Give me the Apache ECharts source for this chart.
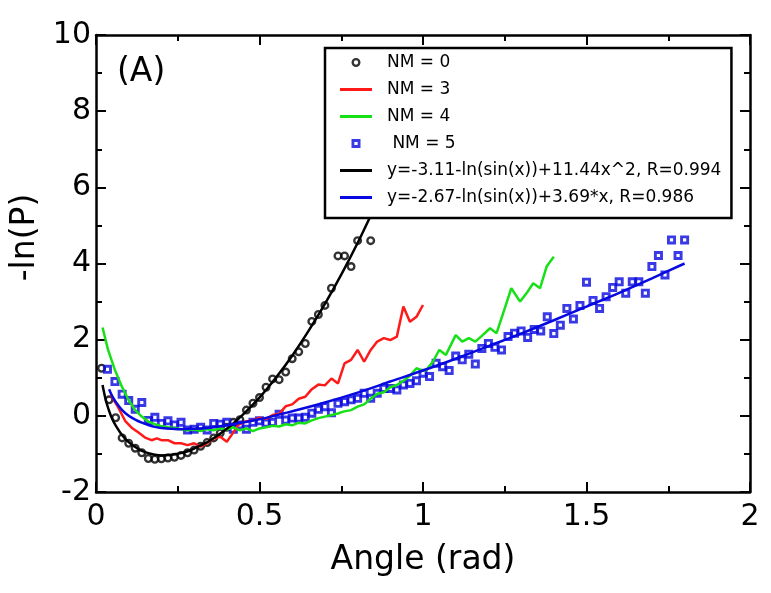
<!DOCTYPE html>
<html><head><meta charset="utf-8">
<script src="https://cdn.jsdelivr.net/npm/echarts@6/dist/echarts.min.js"></script>
<style>html,body{margin:0;padding:0;background:#fff}#c{width:771px;height:593px}</style>
</head><body><div id="c"></div>
<script>
// ---- data ----
const xTicks = [0, 0.5, 1, 1.5, 2];
const yTicks = [-2, 0, 2, 4, 6, 8, 10];
const seriesNames = ['NM = 0', 'NM = 3', 'NM = 4', ' NM = 5',
  'y=-3.11-ln(sin(x))+11.44x^2, R=0.994', 'y=-2.67-ln(sin(x))+3.69*x, R=0.986'];

const nm0 = [[0.017,1.25],[0.04,0.42],[0.06,-0.05],[0.08,-0.58],[0.10,-0.72],[0.12,-0.85],[0.14,-0.97],[0.16,-1.12],[0.18,-1.14],[0.20,-1.13],[0.22,-1.11],[0.24,-1.09],[0.26,-1.04],[0.28,-0.97],[0.30,-0.90],[0.32,-0.80],[0.34,-0.70],[0.36,-0.58],[0.38,-0.45],[0.40,-0.30],[0.42,-0.17],[0.44,-0.10],[0.46,0.15],[0.48,0.33],[0.50,0.48],[0.52,0.75],[0.54,0.97],[0.56,0.95],[0.58,1.15],[0.60,1.50],[0.62,1.68],[0.64,1.90],[0.66,2.48],[0.68,2.66],[0.70,2.90],[0.72,3.35],[0.74,4.20],[0.76,4.20],[0.78,3.92],[0.80,4.60],[0.84,4.60]];

const nm3 = [[0.045,0.55],[0.068,0.22],[0.089,-0.13],[0.109,-0.31],[0.13,-0.44],[0.15,-0.57],[0.17,-0.64],[0.186,-0.59],[0.20,-0.64],[0.22,-0.64],[0.24,-0.72],[0.26,-0.72],[0.28,-0.77],[0.30,-0.72],[0.32,-0.81],[0.34,-0.72],[0.36,-0.59],[0.38,-0.55],[0.40,-0.68],[0.415,-0.50],[0.435,-0.24],[0.456,-0.15],[0.48,-0.12],[0.50,-0.05],[0.52,-0.08],[0.54,0.02],[0.56,0.05],[0.58,0.25],[0.60,0.30],[0.62,0.45],[0.64,0.50],[0.66,0.70],[0.68,0.82],[0.70,0.80],[0.72,0.98],[0.74,0.85],[0.76,1.38],[0.78,1.47],[0.80,1.73],[0.82,1.42],[0.84,1.73],[0.86,1.95],[0.88,2.04],[0.90,1.99],[0.92,2.08],[0.94,2.87],[0.96,2.47],[0.98,2.60],[1.00,2.91]];

const nm4 = [[0.02,2.32],[0.037,1.73],[0.058,1.20],[0.079,0.77],[0.10,0.41],[0.12,0.15],[0.14,-0.02],[0.16,-0.15],[0.18,-0.22],[0.20,-0.27],[0.22,-0.30],[0.24,-0.32],[0.26,-0.35],[0.28,-0.38],[0.30,-0.36],[0.32,-0.40],[0.34,-0.35],[0.36,-0.38],[0.38,-0.33],[0.40,-0.36],[0.42,-0.30],[0.44,-0.38],[0.46,-0.33],[0.48,-0.40],[0.50,-0.33],[0.52,-0.30],[0.54,-0.26],[0.56,-0.28],[0.58,-0.22],[0.60,-0.25],[0.62,-0.18],[0.64,-0.20],[0.66,-0.12],[0.68,-0.06],[0.70,-0.02],[0.72,0.02],[0.74,0.06],[0.756,0.11],[0.78,0.15],[0.80,0.24],[0.82,0.30],[0.84,0.45],[0.86,0.58],[0.88,0.62],[0.90,0.75],[0.92,0.81],[0.94,0.92],[0.96,1.05],[0.98,1.25],[1.00,1.18],[1.01,1.20],[1.03,1.42],[1.05,1.73],[1.07,1.60],[1.10,2.12],[1.12,1.95],[1.14,2.04],[1.16,1.95],[1.18,2.10],[1.205,2.30],[1.225,2.17],[1.245,2.69],[1.27,3.35],[1.297,3.00],[1.32,3.26],[1.337,3.48],[1.358,3.35],[1.378,3.92],[1.40,4.18]];

const nm5 = [[0.035,1.22],[0.058,0.90],[0.08,0.57],[0.10,0.40],[0.12,0.17],[0.14,0.35],[0.16,-0.12],[0.18,-0.04],[0.20,-0.20],[0.22,-0.13],[0.24,-0.24],[0.26,-0.17],[0.28,-0.37],[0.30,-0.35],[0.32,-0.30],[0.34,-0.37],[0.36,-0.20],[0.38,-0.22],[0.40,-0.17],[0.42,-0.35],[0.44,-0.24],[0.46,-0.35],[0.48,-0.17],[0.50,-0.13],[0.52,-0.19],[0.54,-0.17],[0.56,0.04],[0.58,-0.11],[0.60,-0.06],[0.62,-0.06],[0.64,-0.04],[0.66,0.07],[0.68,0.17],[0.70,0.24],[0.72,0.08],[0.74,0.33],[0.76,0.37],[0.78,0.42],[0.80,0.46],[0.82,0.59],[0.84,0.46],[0.86,0.59],[0.88,0.72],[0.90,0.72],[0.92,0.68],[0.94,0.81],[0.96,0.85],[0.98,0.92],[1.00,1.12],[1.02,1.03],[1.04,1.38],[1.06,1.29],[1.08,1.19],[1.10,1.57],[1.12,1.47],[1.14,1.62],[1.16,1.36],[1.18,1.77],[1.20,1.90],[1.22,1.80],[1.24,1.73],[1.26,2.08],[1.28,2.17],[1.30,2.23],[1.32,2.06],[1.34,2.27],[1.36,2.23],[1.38,2.60],[1.40,2.16],[1.42,2.38],[1.44,2.82],[1.46,2.54],[1.48,2.90],[1.50,3.51],[1.52,3.03],[1.54,2.82],[1.56,3.13],[1.58,3.37],[1.60,3.52],[1.62,3.22],[1.64,3.52],[1.66,3.52],[1.68,3.22],[1.70,3.92],[1.72,4.21],[1.74,3.70],[1.76,4.62],[1.78,4.21],[1.80,4.62]];

const fitBlack = [[0.02,0.81],[0.03,0.41],[0.04,0.13],[0.05,-0.09],[0.06,-0.25],[0.08,-0.51],[0.10,-0.69],[0.12,-0.82],[0.14,-0.92],[0.16,-0.98],[0.18,-1.02],[0.20,-1.04],[0.22,-1.03],[0.24,-1.01],[0.26,-0.98],[0.28,-0.93],[0.30,-0.86],[0.35,-0.64],[0.40,-0.34],[0.45,0.04],[0.50,0.48],[0.55,1.00],[0.60,1.58],[0.65,2.23],[0.70,2.94],[0.75,3.71],[0.80,4.54],[0.85,5.44]];

const fitBlue = [[0.04,0.70],[0.05,0.51],[0.06,0.37],[0.08,0.15],[0.10,0.00],[0.12,-0.10],[0.14,-0.18],[0.16,-0.24],[0.18,-0.29],[0.20,-0.32],[0.25,-0.35],[0.30,-0.34],[0.35,-0.31],[0.40,-0.25],[0.50,-0.09],[0.60,0.12],[0.70,0.35],[0.80,0.61],[0.90,0.90],[1.00,1.19],[1.10,1.50],[1.20,1.83],[1.30,2.16],[1.40,2.51],[1.50,2.87],[1.60,3.23],[1.70,3.61],[1.80,4.00]];

// ---- chart ----
const FONT = 'DejaVu Sans';
const BLUE = '#0808e0', RED = '#ff1a1a', GREEN = '#17e017', BLACK = '#000';
const ICON_LINE = 'path://M0,0H32V3H0Z';
const ICON_RING = 'path://M5,0A5,5,0,1,1,5,10A5,5,0,1,1,5,0ZM5,2.6A2.4,2.4,0,1,0,5,7.4A2.4,2.4,0,1,0,5,2.6Z';
const ICON_SQ = 'path://M0,0H10V10H0ZM3.2,3.2V6.8H6.8V3.2Z';

const chart = echarts.init(document.getElementById('c'), null, {renderer: 'canvas'});
const axisCommon = {
  axisLine: {show: true, onZero: false, lineStyle: {color: '#000', width: 2.5}},
  axisTick: {show: true, inside: true, length: 10, lineStyle: {color: '#000', width: 2}},
  minorTick: {show: true, splitNumber: 2, length: 6, lineStyle: {color: '#000', width: 2}},
  splitLine: {show: false},
  minorSplitLine: {show: false}
};
chart.setOption({
  animation: false,
  backgroundColor: '#fff',
  grid: {left: 96, right: 21, top: 35, bottom: 101, containLabel: false},
  xAxis: [
    Object.assign({type: 'value', min: xTicks[0], max: xTicks[xTicks.length-1], interval: 0.5, position: 'bottom',
      name: 'Angle (rad)', nameLocation: 'middle', nameGap: 52,
      nameTextStyle: {fontFamily: FONT, fontSize: 33, color: '#000'},
      axisLabel: {fontFamily: FONT, fontSize: 30, color: '#000', margin: 10}}, axisCommon),
    Object.assign({type: 'value', min: xTicks[0], max: xTicks[xTicks.length-1], interval: 0.5, position: 'top',
      axisLabel: {show: false}}, axisCommon)
  ],
  yAxis: [
    Object.assign({type: 'value', min: yTicks[0], max: yTicks[yTicks.length-1], interval: 2, position: 'left',
      name: '-ln(P)', nameLocation: 'middle', nameGap: 52, nameRotate: 90,
      nameTextStyle: {fontFamily: FONT, fontSize: 33, color: '#000', padding: [0, 0, 0, 52]},
      axisLabel: {fontFamily: FONT, fontSize: 30, color: '#000', margin: 5}}, axisCommon),
    Object.assign({type: 'value', min: yTicks[0], max: yTicks[yTicks.length-1], interval: 2, position: 'right',
      axisLabel: {show: false}}, axisCommon)
  ],
  legend: {
    orient: 'vertical', left: 325, top: 48,
    data: [
      {name: seriesNames[0], icon: ICON_RING, itemStyle: {borderWidth: 0}},
      {name: seriesNames[1], icon: ICON_LINE, itemStyle: {borderWidth: 0}},
      {name: seriesNames[2], icon: ICON_LINE, itemStyle: {borderWidth: 0}},
      {name: seriesNames[3], icon: ICON_SQ, itemStyle: {borderWidth: 0}},
      {name: seriesNames[4], icon: ICON_LINE, itemStyle: {borderWidth: 0}},
      {name: seriesNames[5], icon: ICON_LINE, itemStyle: {borderWidth: 0}}
    ],
    backgroundColor: '#fff', borderColor: '#000', borderWidth: 2.5, borderRadius: 0,
    padding: [6, 10, 12, 15],
    itemWidth: 32, itemHeight: 9, itemGap: 10,
    textStyle: {fontFamily: FONT, fontSize: 17, color: '#000', padding: [0, 0, 0, 10]},
    z: 10
  },
  graphic: [{type: 'text', left: 117, top: 56, style: {text: '(A)', fontFamily: FONT, fontSize: 33, fill: '#000'}}],
  series: [
    {name: seriesNames[1], type: 'line', data: nm3, showSymbol: false, symbol: 'none',
      lineStyle: {color: RED, width: 2.5}, itemStyle: {color: RED}},
    {name: seriesNames[2], type: 'line', data: nm4, showSymbol: false, symbol: 'none',
      lineStyle: {color: GREEN, width: 2.5}, itemStyle: {color: GREEN}},
    {name: seriesNames[0], type: 'scatter', data: nm0, symbol: ICON_RING, symbolSize: 9,
      itemStyle: {color: BLACK, borderWidth: 0}},
    {name: seriesNames[3], type: 'scatter', data: nm5, symbol: ICON_SQ, symbolSize: 9,
      itemStyle: {color: BLUE, borderWidth: 0}},
    {name: seriesNames[4], type: 'line', data: fitBlack, showSymbol: false, symbol: 'none', smooth: 0.3,
      lineStyle: {color: BLACK, width: 2.5}, itemStyle: {color: BLACK}},
    {name: seriesNames[5], type: 'line', data: fitBlue, showSymbol: false, symbol: 'none', smooth: 0.3,
      lineStyle: {color: BLUE, width: 2.5}, itemStyle: {color: BLUE}}
  ]
});
</script>
</body></html>
